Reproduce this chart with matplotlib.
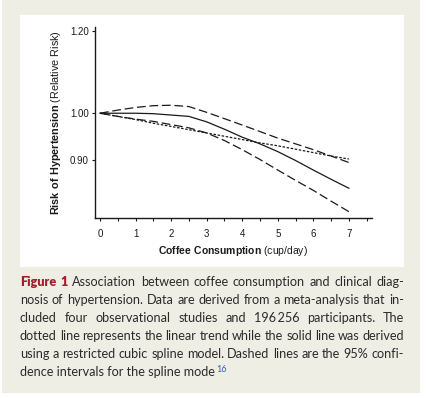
import matplotlib
matplotlib.use('Agg')
import matplotlib.pyplot as plt
from matplotlib.patches import Rectangle
from matplotlib.ticker import FixedLocator, NullLocator, MultipleLocator

# Coffee consumption (cups/day) and relative risk curves
cups = [0, 0.5, 1, 1.5, 2, 2.5, 3, 3.5, 4, 4.5, 5, 5.5, 6, 6.5, 7]
spline_rr = [1.000, 1.000, 1.000, 0.999, 0.996, 0.993, 0.981, 0.965, 0.948,
             0.934, 0.918, 0.900, 0.881, 0.863, 0.846]
upper_ci = [1.000, 1.007, 1.013, 1.017, 1.018, 1.015, 1.002, 0.988, 0.974,
            0.960, 0.946, 0.934, 0.922, 0.909, 0.896]
lower_ci = [1.000, 0.993, 0.987, 0.982, 0.975, 0.968, 0.957, 0.941, 0.922,
            0.902, 0.881, 0.861, 0.842, 0.822, 0.803]
linear_rr = [1.000, 0.993, 0.986, 0.978, 0.971, 0.964, 0.957, 0.950, 0.943,
             0.936, 0.930, 0.923, 0.916, 0.909, 0.903]

y_ticks = [0.90, 1.00, 1.20]
y_tick_labels = ['0.90', '1.00', '1.20']
x_ticks = [0, 1, 2, 3, 4, 5, 6, 7]

caption_lines = [
    ['Figure', '1', 'Association', 'between', 'coffee', 'consumption', 'and', 'clinical', 'diag-'],
    ['nosis', 'of', 'hypertension.', 'Data', 'are', 'derived', 'from', 'a', 'meta-analysis', 'that', 'in-'],
    ['cluded', 'four', 'observational', 'studies', 'and', '196\u2009256', 'participants.', 'The'],
    ['dotted', 'line', 'represents', 'the', 'linear', 'trend', 'while', 'the', 'solid', 'line', 'was', 'derived'],
    ['using', 'a', 'restricted', 'cubic', 'spline', 'model.', 'Dashed', 'lines', 'are', 'the', '95%', 'confi-'],
]
caption_last = 'dence intervals for the spline mode'
caption_ref = '16'

W, H = 426, 398
BEIGE = '#EEEEE4'
TEXT = '#2b2b2b'
RED = '#A61C2E'
BLUE = '#3A5FCD'

plt.rcParams['font.family'] = ['Liberation Sans', 'DejaVu Sans']
plt.rcParams['mathtext.fontset'] = 'custom'
plt.rcParams['mathtext.rm'] = 'Liberation Sans'
plt.rcParams['mathtext.bf'] = 'Liberation Sans:bold'

fig = plt.figure(figsize=(W / 100, H / 100), dpi=100)
fig.patch.set_facecolor('white')

# beige box and white chart panel (behind the axes)
fig.patches.append(Rectangle((2 / W, 5 / H), 418 / W, 393 / H, transform=fig.transFigure,
                             facecolor=BEIGE, edgecolor='none', zorder=-2))
fig.patches.append(Rectangle((20 / W, 131 / H), 384 / W, 252 / H, transform=fig.transFigure,
                             facecolor='white', edgecolor='none', zorder=-1))

ax = fig.add_axes([95 / W, 180 / H, 277 / W, 191 / H])
ax.set_facecolor('none')
ax.set_zorder(1)

line_kw = dict(color='#1a1a1a', linewidth=0.9)
ax.plot(cups, upper_ci, dashes=(7, 3), **line_kw)
ax.plot(cups, lower_ci, dashes=(7, 3), **line_kw)
ax.plot(cups, linear_rr, dashes=(2, 1.3), **line_kw)
ax.plot(cups, spline_rr, **line_kw)

ax.set_yscale('log')
ax.set_ylim(0.7917, 1.212)
ax.set_xlim(-0.14, 7.65)
ax.yaxis.set_major_locator(FixedLocator(y_ticks))
ax.set_yticklabels(y_tick_labels)
ax.yaxis.set_minor_locator(NullLocator())
ax.set_xticks(x_ticks)
ax.xaxis.set_minor_locator(MultipleLocator(0.5))

for side in ['top', 'right']:
    ax.spines[side].set_visible(False)
for side in ['left', 'bottom']:
    ax.spines[side].set_linewidth(1.0)
    ax.spines[side].set_color('#1a1a1a')

ax.tick_params(which='both', direction='out', length=2.5, width=0.8, color='#1a1a1a',
               labelsize=7, labelcolor='#1a1a1a')
ax.tick_params(axis='x', pad=5.5)
ax.tick_params(axis='y', pad=2)

ax.set_xlabel(r'$\bf{Coffee\ Consumption}$ (cup/day)', fontsize=7.5, color='#1a1a1a', labelpad=3.5)
ax.set_ylabel(r'$\bf{Risk\ of\ Hypertension}$ (Relative Risk)', fontsize=7.8, color='#1a1a1a',
              labelpad=5)

# caption, justified between x=20 and x=404 px
renderer = fig.canvas.get_renderer()
cap_font = dict(family='Lato', fontsize=9.1)
left, right = 20, 404
base0, step = 286, 18.1
for i, words in enumerate(caption_lines):
    y = (H - (base0 + i * step)) / H
    texts = []
    for j, w in enumerate(words):
        bold = (i == 0 and j < 2)
        t = fig.text(0, y, w, va='baseline', ha='left', color=RED if bold else TEXT,
                     fontweight='heavy' if bold else 'normal', **cap_font)
        texts.append(t)
    widths = [t.get_window_extent(renderer).width for t in texts]
    gap = (right - left - sum(widths)) / (len(words) - 1)
    x = left
    for t, wdt in zip(texts, widths):
        t.set_x(x / W)
        x += wdt + gap

y_last = (H - (base0 + len(caption_lines) * step)) / H
t_last = fig.text(left / W, y_last, caption_last, va='baseline', ha='left', color=TEXT, **cap_font)
x_end = t_last.get_window_extent(renderer).x1
fig.text((x_end + 1) / W, y_last + 5 / H, caption_ref, va='baseline', ha='left', color=BLUE,
         family='Lato', fontsize=6.5)

fig.savefig('out.png', dpi=100, facecolor=fig.get_facecolor())
